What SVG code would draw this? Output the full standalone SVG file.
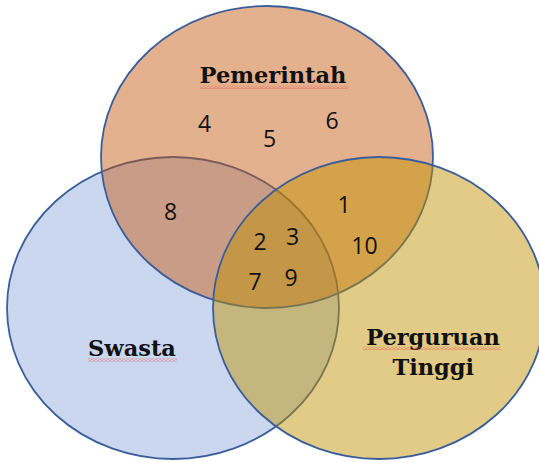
<svg xmlns="http://www.w3.org/2000/svg" width="539" height="462" viewBox="0 0 539 462">
  <defs>
    <pattern id="wavy" patternUnits="userSpaceOnUse" width="4" height="3">
      <path d="M0 2.4 L2 0.6 L4 2.4" fill="none" stroke="#E8504A" stroke-width="0.8"/>
    </pattern>
    <style>
      .set { stroke: #3A5E9A; stroke-width: 1.8; fill-opacity: 0.47; }
      .title { font-family: "DejaVu Serif", "Liberation Serif", serif; font-weight: bold; font-size: 22.5px; fill: #111; text-anchor: middle; }
      .num { font-family: "Open Sans", "Noto Sans", "Liberation Sans", sans-serif; font-size: 23px; fill: #111; text-anchor: middle; }
    </style>
  </defs>
  <rect width="539" height="462" fill="#ffffff"/>

  <g id="swasta">
    <ellipse class="set" cx="173" cy="308" rx="166" ry="151" fill="#8FAADC"/>
    <text class="title" x="132" y="356">Swasta</text>
    <rect x="88" y="358.5" width="89" height="3" fill="url(#wavy)"/>
  </g>

  <g id="pemerintah">
    <ellipse class="set" cx="267" cy="157" rx="166" ry="151" fill="#C55A11"/>
    <text class="title" x="273" y="83.3">Pemerintah</text>
    <rect x="200" y="85.8" width="148" height="3" fill="url(#wavy)"/>
  </g>

  <g id="perguruan-tinggi">
    <ellipse class="set" cx="379" cy="308" rx="166" ry="151" fill="#BF9000"/>
    <text class="title" x="433" y="345">Perguruan</text>
    <rect x="363" y="346.8" width="138" height="3" fill="url(#wavy)"/>
    <text class="title" x="433.3" y="375">Tinggi</text>
  </g>

  <g id="region-numbers">
    <text class="num" x="204.5" y="131.7">4</text>
    <text class="num" x="269.5" y="147">5</text>
    <text class="num" x="332" y="129">6</text>
    <text class="num" x="170.5" y="220">8</text>
    <text class="num" x="344" y="213.3">1</text>
    <text class="num" x="364.5" y="254">10</text>
    <text class="num" x="260" y="250">2</text>
    <text class="num" x="292.5" y="245">3</text>
    <text class="num" x="255" y="290">7</text>
    <text class="num" x="291" y="286">9</text>
  </g>
</svg>
